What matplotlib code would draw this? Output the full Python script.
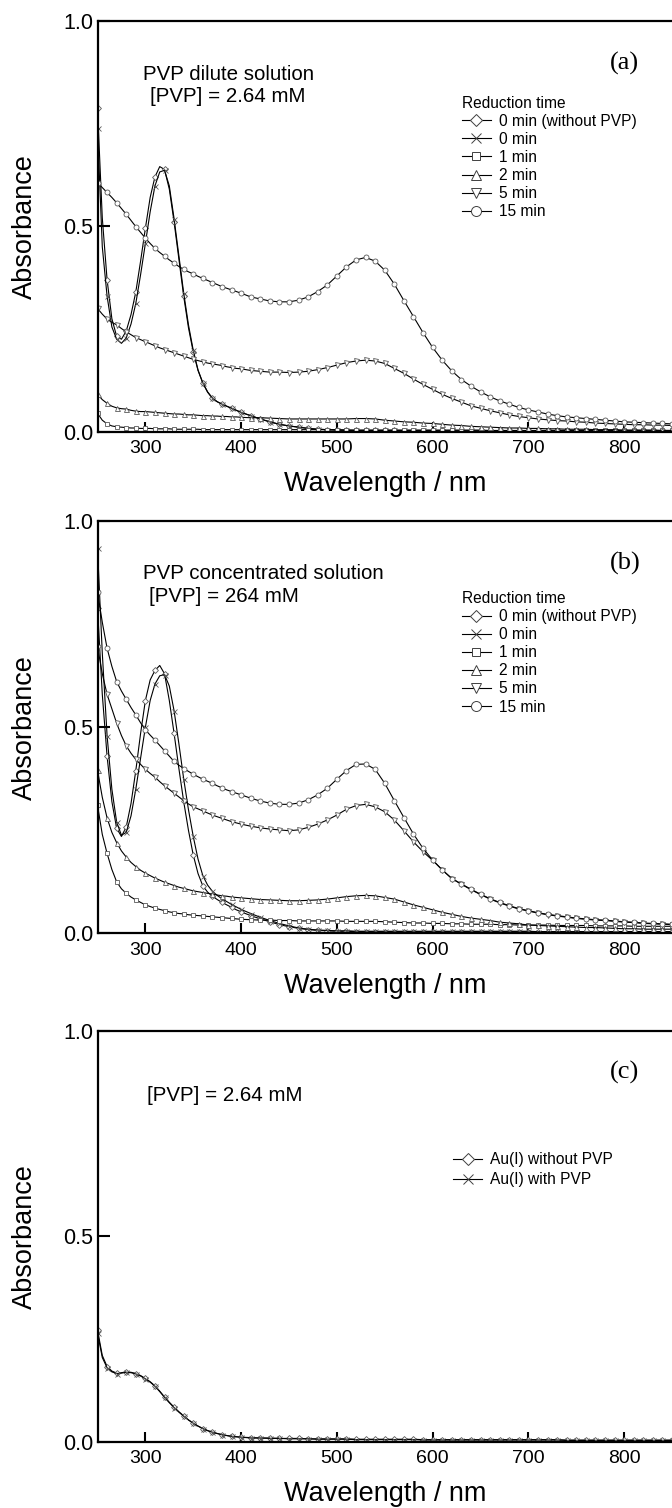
import matplotlib
matplotlib.use("Agg")
import matplotlib.pyplot as plt
from matplotlib.lines import Line2D

plt.rcParams['font.family'] = ['Liberation Sans', 'DejaVu Sans']

# wavelength grid (nm): 5 nm steps up to 400, then 10 nm steps
wl = list(range(250, 401, 5)) + list(range(410, 851, 10))

# ---------------- panel (a): PVP dilute solution ----------------
a_0_nopvp = [0.787, 0.52, 0.37, 0.275, 0.232, 0.225, 0.245, 0.285, 0.34, 0.415, 0.495, 0.57, 0.62, 0.645, 0.638,
             0.59, 0.51, 0.42, 0.33, 0.253, 0.194, 0.149, 0.118, 0.096, 0.081, 0.073, 0.067, 0.062, 0.057, 0.052, 0.047] + \
            [0.039, 0.031, 0.024, 0.018, 0.014, 0.011, 0.008, 0.006, 0.005, 0.004,
             0.004, 0.003, 0.003, 0.003, 0.003, 0.003, 0.002, 0.002, 0.002, 0.002] + [0.002] * 25
a_0 = [0.738, 0.45, 0.33, 0.255, 0.225, 0.215, 0.228, 0.262, 0.312, 0.382, 0.458, 0.535, 0.598, 0.632, 0.636,
       0.598, 0.518, 0.428, 0.338, 0.26, 0.198, 0.150, 0.119, 0.097, 0.082, 0.073, 0.067, 0.062, 0.057, 0.052, 0.047] + \
      [0.039, 0.031, 0.024, 0.018, 0.014, 0.011, 0.008, 0.006, 0.005, 0.004] + [0.003] * 10 + [0.002] * 25
a_1 = [0.045, 0.028, 0.019, 0.014, 0.012, 0.011, 0.010, 0.009, 0.009, 0.008, 0.008, 0.008, 0.007, 0.007, 0.007,
       0.007, 0.006, 0.006, 0.006, 0.006, 0.006, 0.006, 0.005, 0.005, 0.005, 0.005, 0.005, 0.005, 0.005, 0.005, 0.005] + \
      [0.005] * 10 + [0.004] * 15 + [0.003] * 20
a_2 = [0.091, 0.078, 0.069, 0.062, 0.058, 0.056, 0.055, 0.052, 0.050, 0.049, 0.049, 0.048, 0.047, 0.046, 0.045,
       0.044, 0.043, 0.043, 0.042, 0.041, 0.041, 0.040, 0.039, 0.039, 0.038, 0.038, 0.037, 0.037, 0.036, 0.036, 0.035] + \
      [0.034, 0.034, 0.033, 0.032, 0.031, 0.031, 0.031, 0.031, 0.031, 0.031,
       0.031, 0.032, 0.032, 0.031, 0.028, 0.026, 0.024, 0.023, 0.021, 0.020,
       0.018, 0.016, 0.015, 0.013, 0.012, 0.011, 0.010, 0.009, 0.009, 0.008,
       0.008, 0.007, 0.007, 0.006, 0.006, 0.006, 0.005, 0.005, 0.005, 0.004,
       0.004, 0.004, 0.004, 0.003, 0.003]
a_5 = [0.300, 0.286, 0.274, 0.266, 0.260, 0.251, 0.243, 0.236, 0.229, 0.224, 0.219, 0.214, 0.209, 0.204, 0.200,
       0.196, 0.192, 0.188, 0.184, 0.180, 0.176, 0.173, 0.170, 0.167, 0.165, 0.163, 0.161, 0.158, 0.156, 0.154, 0.153] + \
      [0.149, 0.147, 0.145, 0.145, 0.144, 0.145, 0.147, 0.151, 0.156, 0.162,
       0.168, 0.172, 0.174, 0.172, 0.166, 0.154, 0.142, 0.128, 0.115, 0.103,
       0.091, 0.081, 0.072, 0.063, 0.057, 0.051, 0.046, 0.041, 0.037, 0.034,
       0.031, 0.029, 0.027, 0.026, 0.024, 0.023, 0.021, 0.020, 0.019, 0.018,
       0.017, 0.017, 0.016, 0.016, 0.015]
a_15 = [0.606, 0.594, 0.582, 0.570, 0.557, 0.543, 0.529, 0.514, 0.499, 0.485, 0.471, 0.458, 0.446, 0.436, 0.427,
        0.418, 0.410, 0.402, 0.395, 0.389, 0.384, 0.378, 0.373, 0.368, 0.363, 0.358, 0.353, 0.349, 0.345, 0.341, 0.337] + \
       [0.328, 0.323, 0.318, 0.316, 0.316, 0.320, 0.328, 0.341, 0.357, 0.379,
        0.401, 0.418, 0.424, 0.415, 0.393, 0.359, 0.319, 0.280, 0.241, 0.205,
        0.174, 0.148, 0.127, 0.111, 0.097, 0.085, 0.075, 0.067, 0.059, 0.053,
        0.048, 0.043, 0.039, 0.036, 0.034, 0.032, 0.030, 0.028, 0.026, 0.024,
        0.023, 0.022, 0.021, 0.020, 0.019]

# ---------------- panel (b): PVP concentrated solution ----------------
b_0_nopvp = [0.789, 0.58, 0.43, 0.32, 0.255, 0.235, 0.258, 0.315, 0.395, 0.485, 0.565, 0.615, 0.638, 0.65, 0.63,
             0.565, 0.485, 0.40, 0.32, 0.25, 0.19, 0.145, 0.115, 0.100, 0.090, 0.082, 0.075, 0.069, 0.063, 0.057, 0.052] + \
            [0.043, 0.035, 0.028, 0.021, 0.016, 0.012, 0.009, 0.007, 0.006, 0.005,
             0.005] + [0.004] * 34
b_0 = [0.934, 0.68, 0.48, 0.35, 0.27, 0.238, 0.245, 0.285, 0.35, 0.425, 0.50, 0.565, 0.605, 0.625, 0.628,
       0.60, 0.54, 0.46, 0.375, 0.30, 0.235, 0.18, 0.14, 0.117, 0.102, 0.092, 0.084, 0.077, 0.070, 0.064, 0.058] + \
      [0.048, 0.039, 0.031, 0.024, 0.018, 0.013, 0.010, 0.008, 0.007, 0.006,
       0.006] + [0.005] * 19 + [0.004] * 15
b_1 = [0.311, 0.24, 0.194, 0.155, 0.125, 0.108, 0.097, 0.088, 0.081, 0.075, 0.069, 0.065, 0.061, 0.058, 0.055,
       0.052, 0.050, 0.048, 0.047, 0.045, 0.044, 0.043, 0.042, 0.041, 0.040, 0.039, 0.038, 0.037, 0.036, 0.035, 0.034] + \
      [0.033, 0.032, 0.032, 0.031, 0.031, 0.030, 0.030, 0.030, 0.030, 0.030,
       0.029, 0.029, 0.029, 0.029, 0.028, 0.027, 0.026, 0.025, 0.025, 0.024,
       0.024, 0.023, 0.023, 0.022, 0.022, 0.022, 0.021, 0.021, 0.020, 0.020,
       0.020, 0.020, 0.019, 0.019, 0.019, 0.019, 0.018, 0.018, 0.018, 0.018,
       0.017, 0.017, 0.017, 0.017, 0.017]
b_2 = [0.396, 0.33, 0.28, 0.245, 0.22, 0.20, 0.185, 0.172, 0.162, 0.153, 0.146, 0.140, 0.134, 0.129, 0.124,
       0.120, 0.116, 0.112, 0.109, 0.106, 0.103, 0.101, 0.099, 0.097, 0.095, 0.093, 0.091, 0.090, 0.088, 0.087, 0.086] + \
      [0.084, 0.082, 0.081, 0.080, 0.079, 0.079, 0.080, 0.081, 0.083, 0.086,
       0.089, 0.091, 0.092, 0.091, 0.087, 0.083, 0.076, 0.069, 0.063, 0.057,
       0.051, 0.046, 0.041, 0.037, 0.034, 0.031, 0.027, 0.025, 0.023, 0.020,
       0.019, 0.018, 0.017, 0.016, 0.015, 0.014, 0.014, 0.013, 0.012, 0.011,
       0.011, 0.010, 0.010, 0.010, 0.010]
b_5 = [0.696, 0.63, 0.58, 0.545, 0.51, 0.48, 0.455, 0.437, 0.422, 0.410, 0.398, 0.388, 0.379, 0.368, 0.358,
       0.349, 0.340, 0.331, 0.322, 0.314, 0.307, 0.302, 0.297, 0.292, 0.287, 0.283, 0.279, 0.275, 0.271, 0.268, 0.265] + \
      [0.260, 0.256, 0.253, 0.251, 0.249, 0.251, 0.257, 0.265, 0.275, 0.287,
       0.301, 0.310, 0.313, 0.307, 0.295, 0.275, 0.249, 0.222, 0.198, 0.177,
       0.154, 0.133, 0.119, 0.106, 0.094, 0.083, 0.074, 0.066, 0.059, 0.054,
       0.049, 0.045, 0.042, 0.039, 0.036, 0.034, 0.032, 0.031, 0.029, 0.027,
       0.026, 0.024, 0.023, 0.022, 0.021]
b_15 = [0.829, 0.755, 0.692, 0.648, 0.611, 0.588, 0.568, 0.548, 0.530, 0.511, 0.494, 0.481, 0.469, 0.456, 0.443,
        0.430, 0.417, 0.408, 0.400, 0.393, 0.386, 0.380, 0.374, 0.369, 0.364, 0.358, 0.353, 0.348, 0.344, 0.340, 0.336] + \
       [0.328, 0.321, 0.316, 0.313, 0.313, 0.316, 0.324, 0.336, 0.352, 0.374,
        0.395, 0.410, 0.411, 0.398, 0.364, 0.322, 0.281, 0.241, 0.206, 0.178,
        0.154, 0.133, 0.120, 0.107, 0.095, 0.084, 0.075, 0.067, 0.060, 0.055,
        0.050, 0.046, 0.043, 0.040, 0.037, 0.035, 0.033, 0.032, 0.030, 0.028,
        0.027, 0.025, 0.024, 0.023, 0.022]

# ---------------- panel (c): Au(I) ----------------
c_nopvp = [0.272, 0.21, 0.183, 0.172, 0.167, 0.168, 0.170, 0.169, 0.166, 0.161, 0.154, 0.146, 0.136, 0.123, 0.109,
           0.096, 0.084, 0.073, 0.063, 0.053, 0.045, 0.038, 0.032, 0.027, 0.023, 0.020, 0.017, 0.015, 0.013, 0.012, 0.011] + \
          [0.010, 0.009, 0.009, 0.008, 0.008, 0.008, 0.007, 0.007, 0.007, 0.007,
           0.007, 0.006, 0.006, 0.006, 0.006, 0.006, 0.006, 0.006, 0.005, 0.005] + [0.005] * 13 + [0.004] * 12
c_pvp = [0.265, 0.205, 0.180, 0.170, 0.166, 0.167, 0.169, 0.168, 0.165, 0.160, 0.153, 0.145, 0.135, 0.122, 0.108,
         0.095, 0.083, 0.072, 0.062, 0.053, 0.045, 0.038, 0.032, 0.027, 0.023, 0.020, 0.017, 0.015, 0.013, 0.012, 0.011] + \
        [0.009, 0.009, 0.008, 0.008, 0.007, 0.007, 0.007, 0.006, 0.006, 0.006,
         0.006, 0.005, 0.005, 0.005, 0.005, 0.005, 0.005, 0.005, 0.004, 0.004] + [0.004] * 13 + [0.003] * 12

labels_ab = ['0 min (without PVP)', '0 min', '1 min', '2 min', '5 min', '15 min']
labels_c = ['Au(I) without PVP', 'Au(I) with PVP']
xticks = [300, 400, 500, 600, 700, 800]
yticks = [0.0, 0.5, 1.0]

series_a = [a_0_nopvp, a_0, a_1, a_2, a_5, a_15]
series_b = [b_0_nopvp, b_0, b_1, b_2, b_5, b_15]
series_c = [c_nopvp, c_pvp]
markers = ['D', 'x', 's', '^', 'v', 'o']
msizes = [3.0, 3.6, 3.2, 3.6, 3.6, 3.6]

W, H = 672, 1508
fig = plt.figure(figsize=(W / 100, H / 100), dpi=100)
LEFT = 97.5

mask = [w % 10 == 0 for w in wl]


def make_ax(top, bottom):
    ax = fig.add_axes([LEFT / W, 1 - bottom / H, (W - LEFT) / W, (bottom - top) / H])
    ax.set_xlim(250, 850)
    ax.set_ylim(0, 1.0)
    ax.spines['right'].set_visible(False)
    for s in ['left', 'top', 'bottom']:
        ax.spines[s].set_linewidth(1.6)
    ax.set_xticks(xticks)
    ax.set_xticklabels([str(t) for t in xticks])
    ax.set_yticks(yticks)
    ax.set_yticklabels(['%.1f' % t for t in yticks])
    ax.tick_params(axis='x', direction='in', length=7, width=1.5, labelsize=14, pad=6)
    ax.tick_params(axis='y', direction='in', length=8.5, width=1.5, labelsize=15.5, pad=3)
    ax.set_xlabel('Wavelength / nm', fontsize=19.5)
    ax.xaxis.label.set_verticalalignment('center')
    ax.xaxis.set_label_coords(0.5, -52.5 / (bottom - top))
    ax.set_ylabel('Absorbance', fontsize=19.5)
    ax.yaxis.label.set_verticalalignment('center')
    ax.yaxis.set_label_coords(-(LEFT - 25) / (W - LEFT), 0.5)
    return ax


def draw(ax, series, mks, sizes):
    for y, m, s in zip(series, mks, sizes):
        ax.plot(wl, y, color='black', lw=0.8, marker=m, ms=s, mfc='white', mec='0.35',
                mew=0.6, markevery=mask)


def proxies(mks, sizes):
    return [Line2D([], [], color='black', lw=0.8, marker=m, ms=s * 2.0, mfc='white',
                   mec='0.25', mew=0.7) for m, s in zip(mks, sizes)]


# panel a
axa = make_ax(20.7, 431.7)
draw(axa, series_a, markers, msizes)
axa.text(0.0797, 0.870, 'PVP dilute solution', transform=axa.transAxes, ha='left', va='center', fontsize=14.8)
axa.text(0.0914, 0.815, '[PVP] = 2.64 mM', transform=axa.transAxes, ha='left', va='center', fontsize=14.8)
axa.text(0.918, 0.897, '(a)', transform=axa.transAxes, ha='center', va='center', fontsize=19,
         family='Liberation Serif')
axa.legend(proxies(markers, msizes), labels_ab, title='Reduction time', loc='upper left',
           bbox_to_anchor=(0.6345, 0.818), frameon=False, fontsize=11.2, title_fontsize=11.2,
           handlelength=1.86, handletextpad=0.5, labelspacing=0.2, borderpad=0, borderaxespad=0,
           alignment='left')

# panel b
axb = make_ax(521.3, 933.3)
draw(axb, series_b, markers, msizes)
axb.text(0.0797, 0.8745, 'PVP concentrated solution', transform=axb.transAxes, ha='left', va='center', fontsize=14.8)
axb.text(0.0902, 0.817, '[PVP] = 264 mM', transform=axb.transAxes, ha='left', va='center', fontsize=14.8)
axb.text(0.918, 0.897, '(b)', transform=axb.transAxes, ha='center', va='center', fontsize=19,
         family='Liberation Serif')
axb.legend(proxies(markers, msizes), labels_ab, title='Reduction time', loc='upper left',
           bbox_to_anchor=(0.6345, 0.831), frameon=False, fontsize=11.2, title_fontsize=11.2,
           handlelength=1.86, handletextpad=0.5, labelspacing=0.2, borderpad=0, borderaxespad=0,
           alignment='left')

# panel c
axc = make_ax(1031.0, 1441.7)
draw(axc, series_c, markers[:2], msizes[:2])
axc.text(0.0856, 0.844, '[PVP] = 2.64 mM', transform=axc.transAxes, ha='left', va='center', fontsize=14.8)
axc.text(0.918, 0.898, '(c)', transform=axc.transAxes, ha='center', va='center', fontsize=19,
         family='Liberation Serif')
axc.legend(proxies(markers[:2], msizes[:2]), labels_c, loc='upper left',
           bbox_to_anchor=(0.619, 0.705), frameon=False, fontsize=11.2,
           handlelength=1.86, handletextpad=0.5, labelspacing=0.33, borderpad=0, borderaxespad=0)

fig.savefig('out.png', dpi=100)
